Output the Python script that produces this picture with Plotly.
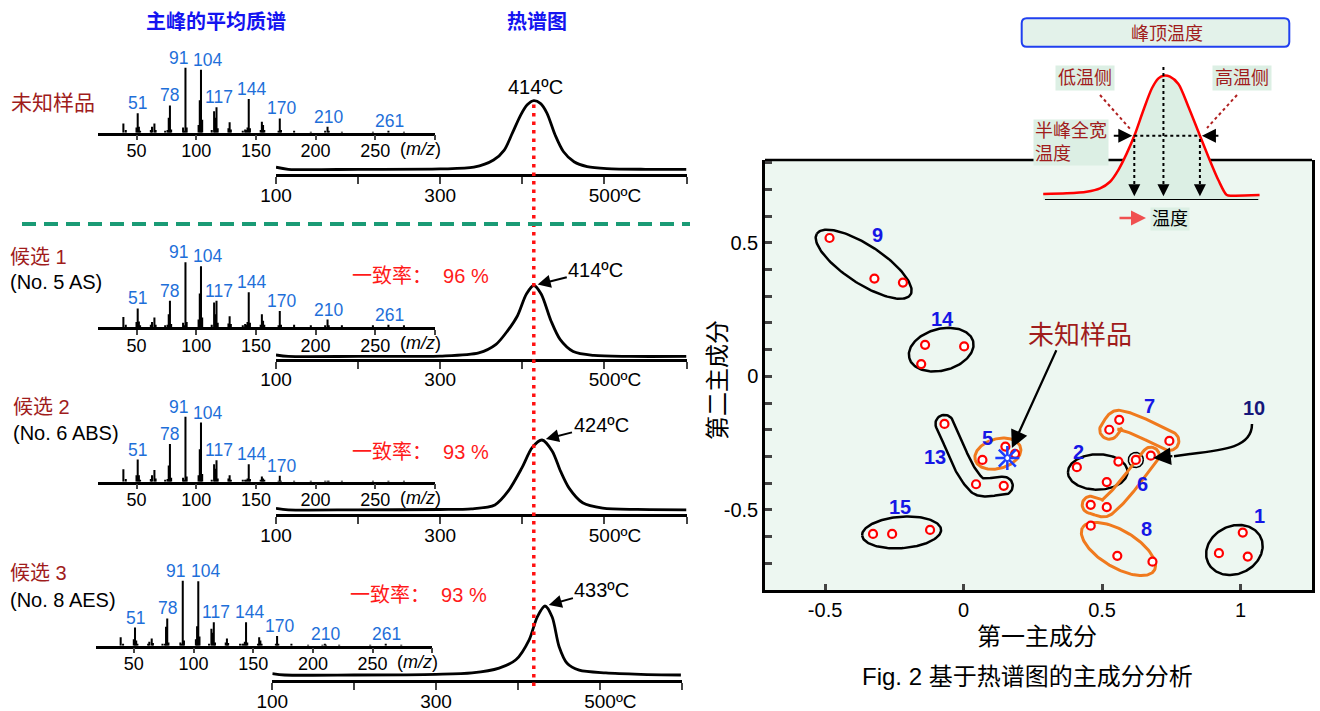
import numpy as np
import plotly.graph_objects as go

W, H = 1320, 711
FONT = "Liberation Sans, Arial, Noto Sans CJK SC, sans-serif"
DARKRED = "#A01C1C"
LABEL_BLUE = "#1E6FD9"
TITLE_BLUE = "#1414F0"
PCA_BLUE = "#1616E6"
NAVY = "#16167A"
ORANGE = "#F07A1E"
MINT = "#EDF7F1"
INSET_FILL = "#DCEFE4"


def PX(x):
    return x / W


def PY(y):
    return 1 - y / H


def sfx(k):
    return "" if k == 1 else str(k)


try:
    go.layout.XAxis(ticklabelstandoff=-5)
    STANDOFF = {"ticklabelstandoff": -5}
except Exception:
    STANDOFF = {}

# ---------------- DATA ----------------
# averaged mass spectra of the main peak (relative intensity, m/z 91 = 100)
mz = [39, 41, 50, 51, 52, 53, 62, 63, 65, 66,
      74, 76, 77, 78, 79, 89, 90, 91, 92,
      102, 103, 104, 105, 113, 115, 116, 117, 118,
      127, 128, 129, 139, 141, 142, 143, 144, 145,
      154, 155, 156, 157, 169, 170, 171, 182, 196,
      208, 210, 211, 222, 248, 261, 274]
ms_unknown = [14, 4, 8, 30, 9, 3, 4, 9, 14, 4,
              2, 4, 23, 42, 5, 8, 3, 100, 8,
              12, 50, 97, 20, 4, 33, 23, 39, 7,
              7, 16, 5, 3, 5, 4, 8, 52, 7,
              4, 17, 12, 4, 3, 22, 4, 3, 1,
              2, 9, 2, 1, 1, 3, 1]
ms_cand1 = [16, 4, 8, 29, 9, 3, 4, 8, 15, 4,
            2, 4, 20, 41, 5, 7, 3, 100, 8,
            12, 52, 94, 15, 4, 38, 20, 41, 7,
            6, 17, 5, 3, 5, 4, 8, 54, 7,
            4, 20, 10, 4, 3, 25, 4, 4, 2,
            2, 12, 2, 2, 2, 4, 2]
ms_cand2 = [19, 4, 10, 34, 10, 3, 4, 10, 18, 5,
            2, 4, 25, 58, 6, 6, 3, 100, 8,
            10, 50, 91, 12, 3, 27, 20, 33, 5,
            5, 10, 3, 2, 3, 3, 5, 27, 4,
            2, 8, 5, 2, 1, 9, 1, 1, 1,
            0.5, 1, 0.5, 0.5, 0.5, 0.5, 0.5]
ms_cand3 = [13, 3, 10, 28, 8, 3, 3, 6, 11, 4,
            2, 3, 29, 42, 5, 5, 3, 100, 8,
            10, 30, 99, 14, 3, 26, 20, 36, 5,
            5, 11, 4, 2, 3, 3, 6, 36, 5,
            3, 13, 8, 3, 2, 15, 2, 2, 1,
            1, 3, 1, 1, 1, 3, 1]
ms_all = [ms_unknown, ms_cand1, ms_cand2, ms_cand3]
peak_labels = [51, 78, 91, 104, 117, 144, 170, 210, 261]
peak_labels_cand2 = [51, 78, 91, 104, 117, 144, 170]
ms_ticks = [50, 100, 150, 200, 250, 300]
ms_ticktext = ["50", "100", "150", "200", "250", ""]

# thermograms (temperature in degC, normalised intensity)
th_T_unknown = [100, 115, 200, 300, 341, 365, 378, 388, 398, 406, 414, 422, 430, 440, 450, 463, 479, 503, 550, 600]
th_I_unknown = [0.03, 0.0, 0.0, 0.005, 0.03, 0.135, 0.28, 0.53, 0.79, 0.94, 1.0, 0.96, 0.82, 0.50, 0.26, 0.11, 0.04, 0.01, 0.0, 0.0]
th_T_cand1 = [100, 115, 200, 273, 300, 347, 368, 382, 394, 405, 414, 423, 435, 446, 462, 487, 530, 600]
th_I_cand1 = [0.02, 0.0, 0.0, 0.0, 0.005, 0.05, 0.17, 0.36, 0.57, 0.88, 1.0, 0.88, 0.50, 0.24, 0.07, 0.014, 0.0, 0.0]
th_T_cand2 = [100, 115, 200, 300, 338, 366.6, 383, 399.5, 412, 424, 436.5, 446.7, 457, 473.5, 498, 540, 600]
th_I_cand2 = [0.02, 0.0, 0.0, 0.004, 0.014, 0.07, 0.27, 0.60, 0.89, 1.0, 0.84, 0.55, 0.31, 0.10, 0.024, 0.005, 0.0]
th_T_cand3 = [100, 115, 200, 300, 344, 377, 397.5, 413.7, 423.5, 433, 441.8, 450.3, 460, 474.8, 507.4, 550, 599]
th_I_cand3 = [0.02, 0.0, 0.0, 0.01, 0.03, 0.10, 0.22, 0.51, 0.84, 1.0, 0.84, 0.41, 0.17, 0.07, 0.03, 0.01, 0.0]
th_T_all = [th_T_unknown, th_T_cand1, th_T_cand2, th_T_cand3]
th_I_all = [th_I_unknown, th_I_cand1, th_I_cand2, th_I_cand3]
peak_temps = [414, 414, 424, 433]
match_rates = [None, 96, 93, 93]
th_ticks = [100, 200, 300, 400, 500, 600]
th_ticktext = ["100", "", "300", "", "\u00a0\u00a0\u00a0\u00a0500ºC", ""]

sample_names = ["未知样品", "候选 1", "候选 2", "候选 3"]
sample_ids = ["", "(No. 5 AS)", "(No. 6 ABS)", "(No. 8 AES)"]

# principal component scores per sample group
pc1 = {"9": [-0.484, -0.322, -0.219], "14": [-0.139, 0.002, -0.153],
       "13": [-0.069, 0.045, 0.145], "5": [0.151, 0.068, 0.186],
       "2": [0.409, 0.559, 0.517], "6": [0.459, 0.517, 0.676],
       "10": [0.622], "7": [0.526, 0.562, 0.743],
       "8": [0.459, 0.555, 0.682], "1": [1.008, 0.922, 1.026],
       "15": [-0.327, -0.258, -0.121]}
pc2 = {"9": [0.518, 0.366, 0.351], "14": [0.118, 0.112, 0.046],
       "13": [-0.178, -0.404, -0.410], "5": [-0.263, -0.313, -0.290],
       "2": [-0.340, -0.319, -0.396], "6": [-0.481, -0.490, -0.297],
       "10": [-0.313], "7": [-0.200, -0.163, -0.242],
       "8": [-0.559, -0.672, -0.694], "1": [-0.585, -0.662, -0.675],
       "15": [-0.590, -0.590, -0.575]}
unknown_pc1 = [0.158]
unknown_pc2 = [-0.306]
pca_xticks = [-0.5, 0, 0.5, 1]
pca_yticks = [round(-0.7 + 0.1 * k, 1) for k in range(16)]

# schematic peak in the inset (arbitrary temperature units, intensity)
inset_x = [0.1, 10.9, 20.1, 26.3, 30.9, 34.7, 38.6, 42.4, 46.3, 50.2, 53.2, 55.5, 58.5, 62.4, 67.0, 72.0, 76.2, 80.8, 84.7, 87.8, 99.8]
inset_y = [0.048, 0.054, 0.067, 0.094, 0.147, 0.241, 0.375, 0.531, 0.724, 0.899, 0.979, 1.0, 0.992, 0.933, 0.75, 0.531, 0.348, 0.161, 0.04, 0.035, 0.04]

# ---------------- STYLE / GEOMETRY ----------------
ms_geom = [(98.3, 435, 132.7), (98.3, 435, 327.3), (98.3, 435, 481.7), (95.6, 432.3, 645.7)]
th_geom = [(276, 686.5, 174, 169.3, 100.7), (276, 686.5, 358.8, 356.4, 285.5),
           (276, 686.5, 514, 509.8, 440), (272.3, 681.7, 680, 675, 606)]
label_xshift = {51: 0, 78: 0, 91: -7, 104: 7, 117: 2, 144: 3, 170: 2, 210: 1, 261: 1}
name_pos = [(9, 103), (8, 257), (11, 407), (8, 573)]
id_pos = [None, (8, 282), (11, 433), (8, 600)]
match_pos = [None, (350, 275.5), (350, 452), (348, 595)]
arrow_off = [None, (62, -15.5), (59, -15), (57, -16)]

# enclosure styles: kind, params, colour, width
enclosure = {"9": ("ellipse", (13, 13), "black", 2.5), "14": ("ellipse", (10, 12), "black", 2.5),
             "5": ("ellipse", (7, 10), ORANGE, 3), "2": ("ellipse", (9, 7.5), "black", 2.5),
             "8": ("ellipse", (6, 12), ORANGE, 3), "1": ("ellipse", (14, 12), "black", 2.5),
             "15": ("ellipse", (11, 15), "black", 2.5), "10": ("ellipse", (7.5, 7.5), "black", 1.5),
             "13": ("tube", 9, "black", 2.5), "7": ("tube", 9.5, ORANGE, 3), "6": ("tube", 8.5, ORANGE, 3)}
group_label_pos = {"9": (-0.311, 0.530), "14": (-0.077, 0.214), "13": (-0.103, -0.303),
                   "5": (0.086, -0.231), "2": (0.414, -0.282), "6": (0.647, -0.403),
                   "7": (0.673, -0.110), "8": (0.661, -0.572), "1": (1.067, -0.522),
                   "10": (1.049, -0.117), "15": (-0.229, -0.489)}

# PCA axes geometry
X0, X1 = 765, 1312
XR = (-0.717, 1.258)
YB, YT = 590, 160
YR = (-0.80, 0.81)


def d2p(x, y):
    return (X0 + (x - XR[0]) / (XR[1] - XR[0]) * (X1 - X0),
            YB - (y - YR[0]) / (YR[1] - YR[0]) * (YB - YT))


def p2d(P):
    P = np.asarray(P)
    x = XR[0] + (P[:, 0] - X0) / (X1 - X0) * (XR[1] - XR[0])
    y = YR[0] + (YB - P[:, 1]) / (YB - YT) * (YR[1] - YR[0])
    return x, y


def ellipse_outline(xs, ys, pad_a, pad_b, n=140):
    P = np.array([d2p(x, y) for x, y in zip(xs, ys)])
    m = P.mean(0)
    if len(P) > 1:
        C = np.cov((P - m).T, bias=True)
        w, V = np.linalg.eigh(C)
        u = V[:, 1]
    else:
        u = np.array([1.0, 0.0])
    v = np.array([-u[1], u[0]])
    pu = (P - m) @ u
    pv = (P - m) @ v
    cu = (pu.max() + pu.min()) / 2
    cv = (pv.max() + pv.min()) / 2
    a = (pu.max() - pu.min()) / 2 + pad_a
    b = (pv.max() - pv.min()) / 2 + pad_b
    c = m + cu * u + cv * v
    t = np.linspace(0, 2 * np.pi, n)
    pts = c + np.outer(a * np.cos(t), u) + np.outer(b * np.sin(t), v)
    return p2d(pts)


def tube_outline(xs, ys, r, nseg=40):
    P = np.array([d2p(x, y) for x, y in zip(xs, ys)])
    N = len(P)
    D = []
    for i in range(N):
        if i == 0:
            d = P[1] - P[0]
        elif i == N - 1:
            d = P[-1] - P[-2]
        else:
            d = P[i + 1] - P[i - 1]
        D.append(d / np.linalg.norm(d))
    curve = []
    for i in range(N - 1):
        L = np.linalg.norm(P[i + 1] - P[i])
        m0, m1 = D[i] * L, D[i + 1] * L
        for t in np.linspace(0, 1, nseg, endpoint=(i == N - 2)):
            h00 = 2 * t ** 3 - 3 * t ** 2 + 1
            h10 = t ** 3 - 2 * t ** 2 + t
            h01 = -2 * t ** 3 + 3 * t ** 2
            h11 = t ** 3 - t ** 2
            curve.append(h00 * P[i] + h10 * m0 + h01 * P[i + 1] + h11 * m1)
    Cv = np.array(curve)
    T = np.gradient(Cv, axis=0)
    T = T / np.linalg.norm(T, axis=1)[:, None]
    Nm = np.stack([-T[:, 1], T[:, 0]], 1)
    left = Cv + r * Nm
    right = Cv - r * Nm
    ang = np.linspace(0, np.pi, 24)
    end_cap = Cv[-1] + r * (np.outer(np.cos(ang), Nm[-1]) + np.outer(np.sin(ang), T[-1]))
    start_cap = Cv[0] + r * (np.outer(np.cos(ang), -Nm[0]) + np.outer(np.sin(ang), -T[0]))
    outline = np.vstack([left, end_cap, right[::-1], start_cap])
    return p2d(outline)


fig = go.Figure()
layout = dict(width=W, height=H, margin=dict(l=0, r=0, t=0, b=0, autoexpand=False), autosize=False,
              paper_bgcolor="white", plot_bgcolor="rgba(0,0,0,0)", showlegend=False,
              font=dict(family=FONT, color="black"))
annotations = []
shapes = []

# background of PCA panel + top border (drawn below traces)
shapes.append(dict(type="rect", xref="paper", yref="paper", x0=PX(X0), x1=PX(X1), y0=PY(YB), y1=PY(YT),
                   fillcolor=MINT, line=dict(width=0), layer="below"))
shapes.append(dict(type="line", xref="paper", yref="paper", x0=PX(X0), x1=PX(X1), y0=PY(YT), y1=PY(YT),
                   line=dict(color="black", width=2.5), layer="below"))

# ---------------- mass spectra ----------------
for i in range(4):
    k = i + 1
    s = sfx(k)
    x0, x1, base = ms_geom[i]
    layout[f"xaxis{s}"] = dict(domain=[PX(x0), PX(x1)], range=[18, 300], anchor=f"y{s}", automargin=False,
                               showline=True, linecolor="black", linewidth=2.5, ticks="outside",
                               ticklen=5, tickwidth=2, tickvals=ms_ticks, ticktext=ms_ticktext,
                               tickfont=dict(size=18), showgrid=False, zeroline=False, **STANDOFF)
    layout[f"yaxis{s}"] = dict(domain=[PY(base), PY(base - 75)], range=[0, 75 / 0.65], anchor=f"x{s}",
                               visible=False, automargin=False)
    vals = ms_all[i]
    fig.add_trace(go.Bar(x=mz, y=vals, width=1.7, marker=dict(color="black", line=dict(width=0)),
                         xaxis=f"x{s}", yaxis=f"y{s}", hoverinfo="skip"))
    labs = peak_labels_cand2 if i == 2 else peak_labels
    for m in labs:
        annotations.append(dict(x=m, y=vals[mz.index(m)], xref=f"x{s}", yref=f"y{s}", text=str(m),
                                showarrow=False, xanchor="center", yanchor="bottom",
                                xshift=label_xshift[m], yshift=-2,
                                font=dict(size=17.5, color=LABEL_BLUE)))
    annotations.append(dict(x=288, y=0, xref=f"x{s}", yref=f"y{s} domain", text="(<i>m/z</i>)",
                            showarrow=False, xanchor="center", yanchor="middle", yshift=-16,
                            font=dict(size=18)))

# ---------------- thermograms ----------------
for i in range(4):
    k = i + 5
    x0, x1, axis_px, base_px, peak_px = th_geom[i]
    hgt = base_px - peak_px
    r0 = -(axis_px - base_px) / hgt
    Dh = 85
    layout[f"xaxis{k}"] = dict(domain=[PX(x0), PX(x1)], range=[100, 600], anchor=f"y{k}", automargin=False,
                               showline=True, linecolor="black", linewidth=2.5, ticks="outside",
                               ticklen=7, tickwidth=2, tickvals=th_ticks, ticktext=th_ticktext,
                               tickfont=dict(size=19), showgrid=False, zeroline=False, **STANDOFF)
    layout[f"yaxis{k}"] = dict(domain=[PY(axis_px), PY(axis_px - Dh)], range=[r0, r0 + Dh / hgt],
                               anchor=f"x{k}", visible=False, automargin=False)
    T, I = th_T_all[i], th_I_all[i]
    fig.add_trace(go.Scatter(x=T, y=I, mode="lines", xaxis=f"x{k}", yaxis=f"y{k}",
                             line=dict(color="black", width=2.8, shape="spline", smoothing=0.8),
                             hoverinfo="skip"))
    j = int(np.argmax(I))
    label = f"{peak_temps[i]}ºC"
    if i == 0:
        annotations.append(dict(x=T[j], y=I[j], xref=f"x{k}", yref=f"y{k}", text=label, showarrow=False,
                                xanchor="center", yanchor="bottom", xshift=2, yshift=1, font=dict(size=20)))
    else:
        ax, ay = arrow_off[i]
        annotations.append(dict(x=T[j], y=I[j], xref=f"x{k}", yref=f"y{k}", text=label, showarrow=True,
                                ax=ax, ay=ay, arrowhead=2, arrowsize=1.3, arrowwidth=2, arrowcolor="black",
                                standoff=4, font=dict(size=20)))
        mx, my = match_pos[i]
        annotations.append(dict(x=PX(mx), y=PY(my), xref="paper", yref="paper", xanchor="left",
                                text=f"一致率：\u00a0\u00a0{match_rates[i]} %", showarrow=False,
                                font=dict(size=20, color="#FF1A1A")))

# red dotted reference line at the unknown's peak temperature
shapes.append(dict(type="line", xref="x5", yref="paper", x0=peak_temps[0], x1=peak_temps[0],
                   y0=PY(686), y1=PY(102), line=dict(color="#FF1010", width=3.5, dash="3.5px,5px")))
# green dashed separator
shapes.append(dict(type="line", xref="paper", yref="paper", x0=PX(22), x1=PX(690), y0=PY(224), y1=PY(224),
                   line=dict(color="#1A9B75", width=4, dash="14px,8px")))

# titles and sample names
annotations.append(dict(x=PX(216), y=PY(22), xref="paper", yref="paper", text="<b>主峰的平均质谱</b>",
                        showarrow=False, font=dict(size=20, color=TITLE_BLUE)))
annotations.append(dict(x=PX(537), y=PY(22), xref="paper", yref="paper", text="<b>热谱图</b>",
                        showarrow=False, font=dict(size=20, color=TITLE_BLUE)))
for i in range(4):
    nx, ny = name_pos[i]
    annotations.append(dict(x=PX(nx), y=PY(ny), xref="paper", yref="paper", xanchor="left",
                            text=sample_names[i], showarrow=False,
                            font=dict(size=21 if i == 0 else 20, color=DARKRED)))
    if id_pos[i]:
        ix, iy = id_pos[i]
        annotations.append(dict(x=PX(ix), y=PY(iy), xref="paper", yref="paper", xanchor="left",
                                text=sample_ids[i], showarrow=False, font=dict(size=20)))

# ---------------- PCA ----------------
layout["xaxis9"] = dict(domain=[PX(X0), PX(X1)], range=list(XR), anchor="y9", showline=True, automargin=False,
                        linecolor="black", linewidth=2.5, ticks="inside", ticklen=6, tickwidth=2.5,
                        tickvals=pca_xticks, ticktext=["-0.5", "0", "0.5", "1"], tickfont=dict(size=20),
                        showgrid=False, zeroline=False)
layout["yaxis9"] = dict(domain=[PY(YB), PY(YT)], range=list(YR), anchor="x9", showline=True, mirror=True,
                        automargin=False,
                        linecolor="black", linewidth=2.5, ticks="inside", ticklen=7, tickwidth=2.5,
                        tickvals=pca_yticks,
                        ticktext=[("-0.5" if abs(v + 0.5) < 1e-9 else "0" if abs(v) < 1e-9 else
                                   "0.5" if abs(v - 0.5) < 1e-9 else "") for v in pca_yticks],
                        tickfont=dict(size=20), showgrid=False, zeroline=False)

for g, (kind, par, col, lw) in enclosure.items():
    if kind == "ellipse":
        ex, ey = ellipse_outline(pc1[g], pc2[g], par[0], par[1])
    else:
        ex, ey = tube_outline(pc1[g], pc2[g], par)
    fig.add_trace(go.Scatter(x=ex, y=ey, mode="lines", line=dict(color=col, width=lw),
                             xaxis="x9", yaxis="y9", hoverinfo="skip"))

allx = [v for g in pc1 for v in pc1[g]]
ally = [v for g in pc2 for v in pc2[g]]
fig.add_trace(go.Scatter(x=allx, y=ally, mode="markers", xaxis="x9", yaxis="y9", hoverinfo="skip",
                         marker=dict(symbol="circle", size=8, color="white", line=dict(color="#FF0000", width=2.2))))
fig.add_trace(go.Scatter(x=unknown_pc1, y=unknown_pc2, mode="markers", xaxis="x9", yaxis="y9", hoverinfo="skip",
                         marker=dict(symbol="asterisk-open", size=20, color="#1A3CFF",
                                     line=dict(color="#1A3CFF", width=2.5))))
fig.add_trace(go.Scatter(x=unknown_pc1, y=unknown_pc2, mode="markers", xaxis="x9", yaxis="y9", hoverinfo="skip",
                         marker=dict(symbol="circle", size=5, color="white", line=dict(color="#1A3CFF", width=1))))

for g, (lx, ly) in group_label_pos.items():
    annotations.append(dict(x=lx, y=ly, xref="x9", yref="y9", text=f"<b>{g}</b>", showarrow=False,
                            xanchor="center", yanchor="middle",
                            font=dict(size=20, color=NAVY if g == "10" else PCA_BLUE)))

# unknown sample call-out
annotations.append(dict(x=PX(1080), y=PY(335), xref="paper", yref="paper", text="未知样品", showarrow=False,
                        font=dict(size=26, color=DARKRED)))
annotations.append(dict(x=unknown_pc1[0], y=unknown_pc2[0], xref="x9", yref="y9", text="", showarrow=True,
                        ax=49.7, ay=-109.3, arrowhead=2, arrowsize=1.6, arrowwidth=2.2, arrowcolor="black",
                        standoff=11))
# curved arrow for group 10
p = lambda x, y: f"{PX(x):.5f},{PY(y):.5f}"
shapes.append(dict(type="path", xref="paper", yref="paper",
                   path=f"M {p(1252, 424)} C {p(1252, 447)} {p(1225, 450)} {p(1190, 454)} L {p(1174, 456.2)}",
                   line=dict(color="black", width=2.5)))
annotations.append(dict(x=pc1["10"][0], y=pc2["10"][0], xref="x9", yref="y9", text="", showarrow=True,
                        ax=38, ay=-4, arrowhead=2, arrowsize=1.6, arrowwidth=2.2, arrowcolor="black",
                        standoff=17.5))

annotations.append(dict(x=PX(1037), y=PY(636), xref="paper", yref="paper", text="第一主成分", showarrow=False,
                        font=dict(size=24)))
annotations.append(dict(x=PX(718), y=PY(380), xref="paper", yref="paper", text="第二主成分", showarrow=False,
                        textangle=-90, font=dict(size=24)))
annotations.append(dict(x=PX(1027), y=PY(676), xref="paper", yref="paper", text="Fig. 2 基于热谱图的主成分分析",
                        showarrow=False, font=dict(size=24)))

# ---------------- inset ----------------
layout["xaxis10"] = dict(domain=[PX(1043), PX(1260)], range=[0, 100], anchor="y10", visible=False, automargin=False)
layout["yaxis10"] = dict(domain=[PY(200), PY(60)], range=[0, 140 / 124.3], anchor="x10", visible=False,
                         automargin=False)
fig.add_trace(go.Scatter(x=inset_x, y=inset_y, mode="lines", xaxis="x10", yaxis="y10", fill="tozeroy",
                         fillcolor=INSET_FILL, line=dict(color="#FF0000", width=2.5, shape="spline", smoothing=0.8),
                         hoverinfo="skip"))
iy = np.array(inset_y)
ixx = np.array(inset_x)
jm = int(np.argmax(iy))
peak_x = ixx[jm]
half = iy.min() + (iy.max() - iy.min()) / 2
xl = float(np.interp(half, iy[:jm + 1], ixx[:jm + 1]))
xr = None
for q in range(jm, len(iy) - 1):
    if iy[q] >= half >= iy[q + 1]:
        xr = ixx[q] + (iy[q] - half) / (iy[q] - iy[q + 1]) * (ixx[q + 1] - ixx[q])
        break
dot = dict(color="black", width=2, dash="dot")
shapes.append(dict(type="line", xref="x10", yref="y10", x0=0.9, x1=99.2, y0=0, y1=0,
                   line=dict(color="black", width=2)))
shapes.append(dict(type="line", xref="x10", yref="y10", x0=peak_x, x1=peak_x, y0=0.08, y1=1.09, line=dot))
shapes.append(dict(type="line", xref="x10", yref="y10", x0=xl, x1=xl, y0=0.08, y1=half, line=dot))
shapes.append(dict(type="line", xref="x10", yref="y10", x0=xr, x1=xr, y0=0.08, y1=half, line=dot))
shapes.append(dict(type="line", xref="x10", yref="y10", x0=xl, x1=xr, y0=half, y1=half, line=dot))
for xx in (xl, peak_x, xr):
    annotations.append(dict(x=xx, y=0.03, xref="x10", yref="y10", text="", showarrow=True, ax=0, ay=-9,
                            arrowhead=2, arrowsize=1.5, arrowwidth=1.6, arrowcolor="black"))
annotations.append(dict(x=xl, y=half, xref="x10", yref="y10", text="", showarrow=True, ax=-22, ay=0,
                        arrowhead=2, arrowsize=1.4, arrowwidth=2, arrowcolor="black", standoff=2))
annotations.append(dict(x=xr, y=half, xref="x10", yref="y10", text="", showarrow=True, ax=20, ay=0,
                        arrowhead=2, arrowsize=1.4, arrowwidth=2, arrowcolor="black", standoff=2))
red_dot = dict(color="#B02020", width=2, dash="dot")
shapes.append(dict(type="line", xref="paper", yref="paper", x0=PX(1100), y0=PY(95), x1=PX(1131), y1=PY(130),
                   line=red_dot))
shapes.append(dict(type="line", xref="paper", yref="paper", x0=PX(1237), y0=PY(95), x1=PX(1207), y1=PY(128),
                   line=red_dot))
annotations.append(dict(x=PX(1085), y=PY(78), xref="paper", yref="paper", text="低温侧", showarrow=False,
                        bgcolor=INSET_FILL, borderpad=2, font=dict(size=18, color=DARKRED)))
annotations.append(dict(x=PX(1242), y=PY(78), xref="paper", yref="paper", text="高温侧", showarrow=False,
                        bgcolor=INSET_FILL, borderpad=2, font=dict(size=18, color=DARKRED)))
annotations.append(dict(x=PX(1032.5), y=PY(142.5), xref="paper", yref="paper", xanchor="left",
                        text="半峰全宽<br>温度", align="left", showarrow=False, bgcolor=INSET_FILL,
                        borderpad=1, font=dict(size=18, color=DARKRED)))
annotations.append(dict(x=PX(1170), y=PY(219), xref="paper", yref="paper", text="温度", showarrow=False,
                        bgcolor=INSET_FILL, borderpad=1, font=dict(size=18)))
annotations.append(dict(x=PX(1146), y=PY(218), xref="paper", yref="paper", text="", showarrow=True,
                        ax=-28, ay=0, arrowhead=2, arrowsize=1.2, arrowwidth=2.5, arrowcolor="#F05050"))
# rounded title box
bx0, bx1, by0, by1 = PX(1021.7), PX(1289.3), PY(18.3), PY(46.7)
rx, ry = 5 / W, 5 / H
shapes.append(dict(type="path", xref="paper", yref="paper",
                   path=(f"M {bx0 + rx},{by0} L {bx1 - rx},{by0} Q {bx1},{by0} {bx1},{by0 - ry} "
                         f"L {bx1},{by1 + ry} Q {bx1},{by1} {bx1 - rx},{by1} L {bx0 + rx},{by1} "
                         f"Q {bx0},{by1} {bx0},{by1 + ry} L {bx0},{by0 - ry} Q {bx0},{by0} {bx0 + rx},{by0} Z"),
                   fillcolor="#E3F2EA", line=dict(color="#2040F0", width=2)))
annotations.append(dict(x=PX(1167), y=PY(34), xref="paper", yref="paper", text="峰顶温度", showarrow=False,
                        font=dict(size=18, color=DARKRED)))

# explicit anchors for paper-referenced texts (plotly's "auto" snaps to the nearest side)
for a in annotations:
    if a.get("xref") == "paper":
        a.setdefault("xanchor", "center")
        a.setdefault("yanchor", "middle")

layout["annotations"] = annotations
layout["shapes"] = shapes
fig.update_layout(**layout)
fig.write_html("out.html", config={"displayModeBar": False},
               post_script="document.body.style.margin='0px';")
